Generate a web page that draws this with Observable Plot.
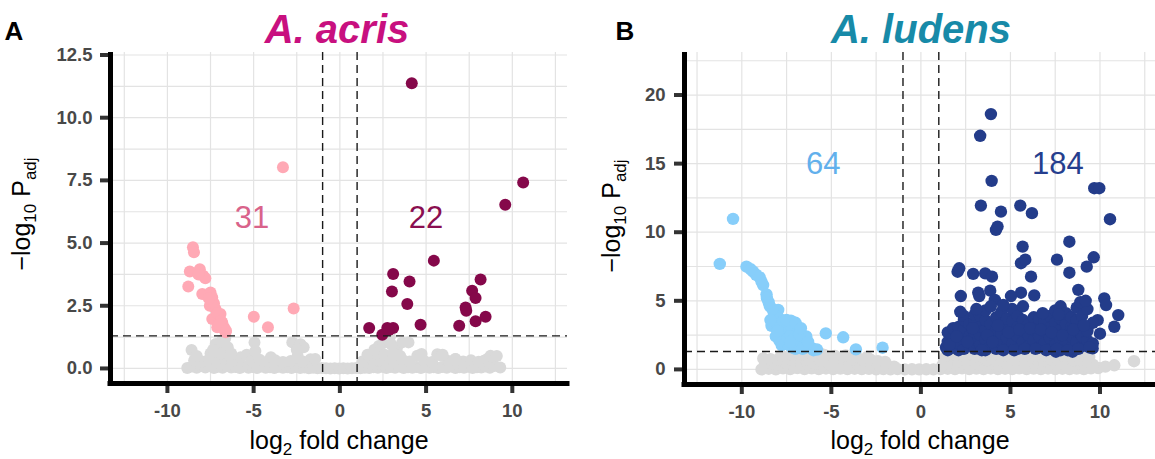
<!DOCTYPE html>
<html><head><meta charset="utf-8">
<script src="https://cdn.jsdelivr.net/npm/d3@7"></script>
<script src="https://cdn.jsdelivr.net/npm/@observablehq/plot@0.6"></script>
<style>
body{margin:0;background:#fff;}
#wrap{position:relative;width:1155px;height:459px;overflow:hidden;background:#fff;font-family:"Liberation Sans",Arial,sans-serif;}
#pa,#pb{position:absolute;top:0;}
#pa{left:0;width:578px} #pb{left:578px;width:577px}
g[aria-label$="tick label"], g[aria-label$="tick label"] text{font-weight:bold !important;font-size:18.5px !important;fill:#484848;}
</style></head><body><div id="wrap"><div id="pa"></div><div id="pb"></div></div>
<script>
// ---------- shared ----------
const xTicks = [-10, -5, 0, 5, 10];
const gridXValues = [-12.5, -10, -7.5, -5, -2.5, 0, 2.5, 5, 7.5, 10, 12.5];
const lfcCut = [-1, 1];
const padjCut = 0.05;

// ---------- Panel A: A. acris ----------
const titleA = "A. acris";
const countLabelsA = ["31", "22"];
const countPosA = [[-5.1, 6.0], [5.0, 6.0]];
const yTicksA = [0, 2.5, 5, 7.5, 10, 12.5];
const gridYA = [0, 1.25, 2.5, 3.75, 5, 6.25, 7.5, 8.75, 10, 11.25, 12.5];
const downA = [
[-3.30,8.02],[-8.52,4.83],[-8.46,4.63],[-8.70,3.87],[-8.12,3.96],[-7.92,3.70],[-8.79,3.27],[-7.98,2.97],[-7.50,3.03],[-7.40,2.83],[-7.54,2.50],[-7.21,2.37],[-7.40,1.97],[-7.01,2.03],[-6.82,1.83],[-6.72,1.64],[-6.63,1.44],[-7.11,1.64],[-6.92,2.17],[-4.99,2.06],[-4.17,1.64],[-2.68,2.39],
[-7.30,2.60],[-7.10,2.20],[-6.90,1.90],[-6.70,1.55],[-7.00,1.75],[-6.60,1.50],[-7.60,2.80],[-7.80,3.60],[-8.20,3.75]];
const upA = [
[4.17,11.37],[10.63,7.42],[9.59,6.53],[5.45,4.30],[3.09,3.77],[4.04,3.47],[3.02,3.07],[3.91,2.57],[8.16,3.55],[7.67,3.10],[7.87,2.81],[7.29,2.43],[7.33,2.30],[8.45,2.06],[7.87,1.88],[6.92,1.70],[4.68,1.74],[1.70,1.61],[2.75,1.61],[3.09,1.61],[2.46,1.34],[2.84,1.53]];
const grayA = [
[-8.85,0.02],[-8.6,0.74],[-8.55,0.08],[-8.3,0.03],[-8.05,0.1],[-7.8,0.04],[-7.55,0.12],[-7.3,0.02],[-7.05,0.07],[-6.8,0.03],[-6.55,0.1],[-6.3,0.04],[-6.05,0.06],[-5.8,0.02],[-5.55,0.09],[-5.3,0.03],[-5.05,0.06],[-4.8,0.02],[-4.55,0.08],[-4.3,0.03],[-4.05,0.05],[-3.8,0.02],[-3.55,0.07],[-3.3,0.03],[-3.05,0.05],[-2.8,0.02],[-2.55,0.06],[-2.3,0.02],[-2.05,0.04],[-1.8,0.01],[-1.55,0.03],[-1.3,0.01],[-1.05,0.02],[-0.8,0.01],[-0.55,0.0],[-0.3,0.01],[-0.05,0.0],[0.2,0.01],[0.45,0.0],[0.7,0.01],[0.95,0.02],[1.2,0.01],[1.45,0.03],[1.7,0.02],[1.95,0.05],[2.2,0.03],[2.45,0.07],[2.7,0.02],[2.95,0.06],[3.2,0.03],[3.45,0.08],[3.7,0.02],[3.95,0.05],[4.2,0.03],[4.45,0.06],[4.7,0.02],[4.95,0.07],[5.2,0.03],[5.45,0.05],[5.7,0.02],[5.95,0.06],[6.2,0.03],[6.45,0.08],[6.7,0.02],[6.95,0.05],[7.2,0.03],[7.45,0.07],[7.7,0.02],[7.95,0.05],[8.2,0.04],[8.45,0.08],[8.7,0.03],[8.95,0.1],[9.3,0.04],
[-8.45,0.32],[-8.0,0.28],[-7.6,0.35],[-7.15,0.3],[-6.7,0.38],[-6.25,0.3],[-5.75,0.45],[-5.4,0.55],[-5.1,0.3],[-4.65,0.35],[-4.2,0.28],[-3.75,0.33],[-3.3,0.26],[-2.85,0.3],[-2.45,0.5],[-2.15,0.28],[-1.7,0.37],[-1.43,0.38],[1.3,0.28],[1.78,0.44],[2.25,0.33],[2.7,0.4],[3.15,0.3],[3.6,0.36],[4.05,0.28],[4.49,0.51],[4.9,0.3],[5.35,0.26],[5.65,0.57],[5.88,0.51],[6.3,0.3],[6.7,0.38],[7.15,0.28],[7.6,0.33],[8.05,0.27],[8.35,0.31],[8.55,0.38],[8.74,0.51],[9.1,0.5],
[-8.3,0.5],[-7.5,0.6],[-7.2,0.98],[-7.0,0.8],[-6.85,1.1],[-6.65,1.2],[-6.9,0.6],[-6.5,0.85],[-6.3,0.6],[-7.35,0.75],[-4.95,1.04],[-4.9,0.7],[-4.0,0.45],[-2.76,1.04],[-2.28,0.97],[-2.1,0.85],[-2.5,0.75],[1.6,0.55],[2.0,0.75],[2.26,0.9],[2.5,1.0],[2.75,1.17],[2.9,1.25],[3.0,0.95],[3.3,0.8],[3.62,1.04],[3.98,1.04],[2.2,0.6],[2.6,0.55],[3.1,0.6],[3.5,0.5],[4.74,0.58],[5.96,0.55],[6.7,0.38]];

// ---------- Panel B: A. ludens ----------
const titleB = "A. ludens";
const countLabelsB = ["64", "184"];
const countPosB = [[-5.45, 15.0], [7.65, 15.0]];
const yTicksB = [0, 5, 10, 15, 20];
const gridYB = [0, 2.5, 5, 7.5, 10, 12.5, 15, 17.5, 20, 22.5];
const downB = [
[-10.49,10.97],[-11.23,7.69],[-9.74,7.49],[-9.37,7.12],[-9.0,6.71],[-8.81,6.15],[-8.62,5.47],[-8.44,4.62],[-7.97,4.33],[-8.16,3.96],[-8.34,3.18],[-7.26,3.55],[-7.73,2.26],[-7.77,1.77],[-6.98,2.74],[-6.70,2.38],[-6.33,1.77],[-6.05,1.53],[-5.31,2.63],[-4.34,2.34],[-3.63,1.46],[-2.14,1.58],
[-8.2,4.1],[-7.9,3.7],[-7.6,3.2],[-7.4,3.3],[-7.2,3.0],[-7.0,2.9],[-7.5,2.8],[-7.8,2.6],[-7.3,2.4],[-7.1,2.2],[-6.9,2.0],[-6.6,2.1],[-6.5,1.8],[-6.8,1.7],[-7.6,1.9],[-7.2,1.6],[-6.2,1.6],[-7.9,2.9],[-8.0,3.3],[-7.7,3.5],[-6.4,2.4],[-6.8,2.5],[-7.0,1.5],[-6.0,1.4],[-5.8,1.45],[-8.6,5.2],[-8.9,6.4],[-9.2,6.9],[-9.5,7.3],[-8.3,4.4],[-8.5,4.9],[-7.4,1.8],[-6.6,1.5],[-7.9,2.1],[-8.1,2.4],[-7.5,3.6],[-8.4,3.6],[-7.0,3.4],[-6.7,3.0],[-6.3,2.0],[-7.3,2.0],[-8.0,2.8]];
const upB = [
[3.91,18.61],[3.31,17.03],[3.95,13.74],[3.35,11.94],[4.47,11.5],[5.55,11.94],[6.20,11.39],[4.19,10.17],[4.28,10.41],[9.68,13.21],[9.96,13.21],[10.56,10.95],[5.68,8.95],[8.29,9.31],[5.59,7.74],[5.83,8.0],[7.60,8.0],[9.65,8.17],[9.26,7.49],[2.05,7.12],[2.14,7.37],[2.92,6.96],[3.59,7.0],[3.97,6.76],[6.15,6.76],[8.29,7.05],[2.23,5.35],[3.20,5.6],[3.26,5.35],[3.87,5.74],[5.59,5.59],[6.33,5.4],[5.03,5.35],[4.13,5.06],[8.79,5.8],[10.24,5.18],[10.34,4.69],[11.02,3.96],[10.80,3.11],[9.87,3.59],[9.31,3.11],[9.59,1.53],[7.54,1.29],[8.47,1.29],[1.40,1.61],
[1.5,1.4],[1.5,2.0],[1.5,2.7],[1.8,1.6],[1.8,2.3],[1.8,3.0],[2.1,1.4],[2.1,1.9],[2.1,2.6],[2.1,3.1],[2.4,1.5],[2.4,2.2],[2.4,2.9],[2.4,3.6],[2.4,3.9],[2.7,1.7],[2.7,2.4],[2.7,3.3],[3.0,1.5],[3.0,2.0],[3.0,2.7],[3.0,3.5],[3.0,4.0],[3.3,1.8],[3.3,2.5],[3.3,3.1],[3.3,3.9],[3.6,1.4],[3.6,2.2],[3.6,2.9],[3.6,3.6],[3.6,4.3],[3.9,1.7],[3.9,2.6],[3.9,3.3],[3.9,4.6],[4.2,1.5],[4.2,2.1],[4.2,2.9],[4.2,3.8],[4.5,1.9],[4.5,2.6],[4.5,3.3],[4.5,4.2],[4.8,1.6],[4.8,2.3],[4.8,3.0],[4.8,3.7],[5.1,1.9],[5.1,2.7],[5.1,3.5],[5.1,4.4],[5.4,1.5],[5.4,2.4],[5.4,3.1],[5.4,3.9],[5.7,2.0],[5.7,2.8],[5.7,3.6],[5.7,4.6],[6.0,1.7],[6.0,2.5],[6.0,3.3],[6.3,2.1],[6.3,2.9],[6.3,3.8],[6.6,1.6],[6.6,2.4],[6.6,3.2],[6.6,3.7],[6.9,1.9],[6.9,2.8],[6.9,3.5],[7.2,1.5],[7.2,2.3],[7.2,3.0],[7.2,3.9],[7.5,1.8],[7.5,2.6],[7.5,3.4],[7.5,4.3],[7.8,1.4],[7.8,2.2],[7.8,2.9],[7.8,3.7],[7.8,4.6],[8.1,1.9],[8.1,2.7],[8.1,3.3],[8.1,4.1],[8.4,1.6],[8.4,2.4],[8.4,3.1],[8.4,3.8],[8.7,2.0],[8.7,2.8],[8.7,3.6],[8.7,4.5],[9.0,1.7],[9.0,2.4],[9.0,3.9],[9.3,2.1],[9.3,2.8],[9.3,4.4],[9.6,1.9],[9.6,3.4],[10.0,2.6],
[1.6,1.8],[2.0,2.4],[2.6,2.0],[2.9,3.0],[3.4,1.4],[3.7,2.5],[4.0,2.0],[4.3,3.2],[4.6,1.4],[4.9,2.7],[5.2,1.4],[5.5,2.9],[5.8,1.5],[6.1,3.0],[6.4,1.5],[6.7,2.9],[7.0,1.4],[7.3,2.7],[7.6,1.5],[7.9,2.5],[8.2,1.4],[8.5,2.9],[8.8,1.5],[9.1,3.2],[9.4,1.6],[2.2,4.2],[3.1,4.4],[4.6,4.7],[6.8,4.1],[7.7,4.0],[8.9,4.9],[9.2,5.0]];
const grayB = [
[-8.9,0.0],[-8.5,0.05],[-8.1,0.0],[-7.7,0.08],[-7.3,0.02],[-6.9,0.1],[-6.5,0.03],[-6.1,0.08],[-5.7,0.02],[-5.3,0.07],[-4.9,0.03],[-4.5,0.06],[-4.1,0.02],[-3.7,0.05],[-3.3,0.02],[-2.9,0.04],[-2.5,0.01],[-2.1,0.03],[-1.7,0.01],[-1.3,0.02],[-0.9,0.0],[-0.5,0.01],[-0.1,0.0],[0.3,0.01],[0.7,0.0],[1.1,0.03],[1.5,0.05],[1.9,0.02],[2.3,0.08],[2.7,0.03],[3.1,0.06],[3.5,0.02],[3.9,0.07],[4.3,0.03],[4.7,0.05],[5.1,0.02],[5.5,0.08],[5.9,0.03],[6.3,0.06],[6.7,0.02],[7.1,0.07],[7.5,0.03],[7.9,0.05],[8.3,0.02],[8.7,0.06],[9.1,0.03],[9.5,0.08],[9.9,0.1],[10.3,0.2],
[-8.7,0.45],[-8.3,0.4],[-7.9,0.35],[-7.5,0.42],[-7.1,0.3],[-6.7,0.38],[-6.3,0.32],[-5.9,0.4],[-5.5,0.3],[-5.1,0.36],[-4.7,0.3],[-4.3,0.38],[-3.9,0.3],[-3.5,0.34],[-3.1,0.28],[-2.7,0.32],[-2.3,0.26],[-1.9,0.3],[-1.5,0.2],[1.2,0.3],[1.6,0.38],[2.0,0.32],[2.4,0.4],[2.8,0.3],[3.2,0.36],[3.6,0.32],[4.0,0.4],[4.4,0.3],[4.8,0.36],[5.2,0.32],[5.6,0.4],[6.0,0.3],[6.4,0.36],[6.8,0.32],[7.2,0.4],[7.6,0.3],[8.0,0.36],[8.4,0.32],[8.8,0.4],[9.2,0.3],[9.6,0.35],[10.8,0.3],
[-8.8,0.8],[-8.4,0.75],[-8.0,0.7],[-7.6,0.78],[-7.2,0.68],[-6.8,0.75],[-6.4,0.7],[-6.0,0.8],[-5.6,0.66],[-5.2,0.72],[-4.8,0.65],[-4.4,0.75],[-4.0,0.68],[-3.6,0.72],[-3.2,0.64],[-2.8,0.7],[-2.4,0.6],[-2.0,0.55],[1.3,0.7],[1.7,0.75],[2.1,0.66],[2.5,0.74],[2.9,0.68],[3.3,0.76],[3.7,0.66],[4.1,0.72],[4.5,0.68],[4.9,0.76],[5.3,0.66],[5.7,0.74],[6.1,0.68],[6.5,0.75],[6.9,0.66],[7.3,0.72],[7.7,0.68],[8.1,0.76],[8.5,0.66],[8.9,0.72],[9.3,0.6],[11.9,0.6],
[-7.8,1.0],[-7.2,1.05],[-6.6,1.1],[-6.0,1.0],[-5.4,1.05],[-4.8,0.98],[-4.2,1.02],[-3.6,0.95],[-3.0,0.9],[1.4,1.0],[1.9,1.05],[2.4,0.98],[2.9,1.04],[3.4,0.96],[3.9,1.05],[4.4,0.98],[4.9,1.02],[5.4,0.96],[5.9,1.05],[6.4,0.98],[6.9,1.02],[7.4,0.96],[7.9,1.05],[8.4,0.98],[8.9,1.0],[9.4,0.9],
[1.6,1.2],[2.2,1.22],[2.8,1.18],[3.5,1.22],[4.2,1.2],[5.0,1.18],[5.7,1.22],[6.5,1.2],[7.2,1.18],[8.0,1.22],[8.7,1.15],[-6.8,1.2],[-6.2,1.25],[-5.6,1.15]];

// ---------- drawing ----------
const FONT = "Liberation Sans, Arial, Helvetica, sans-serif";
function volcano(cfg) {
  const P = d => d[0], Q = d => d[1];
  const svg = Plot.plot({
    width: cfg.width, height: 459,
    marginLeft: cfg.marginLeft, marginRight: cfg.marginRight, marginTop: 52, marginBottom: cfg.marginBottom,
    style: {fontFamily: FONT, background: "transparent", overflow: "visible"},
    x: {domain: cfg.xDomain},
    y: {domain: cfg.yDomain},
    marks: [
      Plot.gridX(gridXValues, {stroke: "#e3e3e3", strokeOpacity: 1, strokeWidth: 1.2}),
      Plot.gridY(cfg.gridY, {stroke: "#e3e3e3", strokeOpacity: 1, strokeWidth: 1.2}),
      Plot.dot(cfg.gray, {x: P, y: Q, r: cfg.r, fill: "#d9d9d9"}),
      Plot.dot(cfg.down, {x: P, y: Q, r: cfg.r, fill: cfg.downColor}),
      Plot.dot(cfg.up, {x: P, y: Q, r: cfg.r, fill: cfg.upColor}),
      Plot.ruleX(lfcCut, {stroke: "#1a1a1a", strokeWidth: 1.4, strokeDasharray: "8,5"}),
      Plot.ruleY([-Math.log10(padjCut)], {stroke: "#1a1a1a", strokeWidth: 1.4, strokeDasharray: "8,5"}),
      Plot.text([cfg.countPos[0]], {x: P, y: Q, text: () => cfg.countLabels[0], fill: cfg.downText, fontSize: 31}),
      Plot.text([cfg.countPos[1]], {x: P, y: Q, text: () => cfg.countLabels[1], fill: cfg.upText, fontSize: 31}),
      Plot.axisX({ticks: xTicks, tickFormat: d => String(d), tickSize: 10, tickPadding: 10, fontSize: 18.5, fontWeight: "bold", fill: "#484848", stroke: "#333", strokeWidth: 4, label: null}),
      Plot.axisY({ticks: cfg.yTicks, tickFormat: cfg.yFormat, tickSize: 10, tickPadding: cfg.yPad, fontSize: 18.5, fontWeight: "bold", fill: "#484848", stroke: "#333", strokeWidth: 4, label: null}),
      Plot.ruleX([cfg.xDomain[0]], {stroke: "#000", strokeWidth: 5}),
      Plot.ruleY([cfg.yDomain[0]], {stroke: "#000", strokeWidth: 5, strokeLinecap: "square"})
    ]
  });
  const s = d3.select(svg);
  s.append("text").attr("x", cfg.letterX).attr("y", 40).attr("font-size", 26).attr("font-weight", "bold")
    .attr("fill", "#000").attr("font-family", FONT).text(cfg.letter);
  s.append("text").attr("x", cfg.titleX).attr("y", 43).attr("text-anchor", "middle").attr("font-size", 40)
    .attr("font-weight", "bold").attr("font-style", "italic").attr("fill", cfg.titleColor).attr("font-family", FONT).text(cfg.title);
  const xl = s.append("text").attr("x", cfg.xLabelX).attr("y", 449).attr("text-anchor", "middle")
    .attr("font-size", 25).attr("fill", "#000").attr("font-family", FONT);
  xl.append("tspan").text("log");
  xl.append("tspan").attr("font-size", 17).attr("dy", 6).text("2");
  xl.append("tspan").attr("dy", -6).text(" fold change");
  const yl = s.append("text").attr("transform", `translate(${cfg.yLabelX},${cfg.yLabelY}) rotate(-90)`)
    .attr("text-anchor", "middle").attr("font-size", 25).attr("fill", "#000").attr("font-family", FONT);
  yl.append("tspan").text("\u2212log");
  yl.append("tspan").attr("font-size", 17).attr("dy", 6).text("10");
  yl.append("tspan").attr("dy", -6).text(" P");
  yl.append("tspan").attr("font-size", 17).attr("dy", 6).text("adj");
  return svg;
}

document.getElementById("pa").append(volcano({
  width: 578, marginLeft: 110, marginRight: 11, marginBottom: 76,
  xDomain: [-13.3, 13.2], yDomain: [-0.6, 12.6], yTicks: yTicksA, gridY: gridYA,
  yFormat: d3.format(".1f"), yPad: 8, r: 6,
  gray: grayA, down: downA, up: upA,
  downColor: "#ffa9b5", upColor: "#85084a", downText: "#d9638a", upText: "#8a0e50",
  countPos: countPosA, countLabels: countLabelsA,
  letter: "A", letterX: 14, title: titleA, titleX: 337, titleColor: "#c8107f",
  xLabelX: 339, yLabelX: 30, yLabelY: 214
}));
document.getElementById("pb").append(volcano({
  width: 577, marginLeft: 106, marginRight: 0, marginBottom: 75,
  xDomain: [-13.2, 13.1], yDomain: [-1.1, 23.1], yTicks: yTicksB, gridY: gridYB,
  yFormat: d => String(d), yPad: 9, r: 6.2,
  gray: grayB, down: downB, up: upB,
  downColor: "#87cefa", upColor: "#233c8a", downText: "#62b0ec", upText: "#253e8e",
  countPos: countPosB, countLabels: countLabelsB,
  letter: "B", letterX: 47, title: titleB, titleX: 343, titleColor: "#178aa8",
  xLabelX: 342, yLabelX: 42, yLabelY: 216
}));
</script></body></html>
